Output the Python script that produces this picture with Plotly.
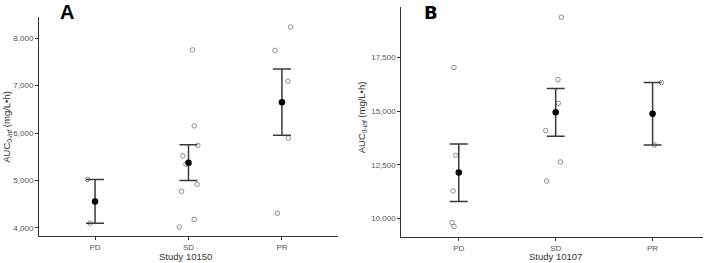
import plotly.graph_objects as go

categories = ["PD", "SD", "PR"]

# Panel A (Study 10150) individual values and horizontal jitter (category units)
a_vals = {
    "PD": [5020, 4100],
    "SD": [7750, 6150, 5740, 5520, 5340, 4920, 4770, 4180, 4020],
    "PR": [8230, 7740, 7090, 5895, 4310],
}
a_jit = {
    "PD": [-0.082, -0.053],
    "SD": [0.043, 0.061, 0.10, -0.06, -0.028, 0.093, -0.075, 0.061, -0.099],
    "PR": [0.093, -0.075, 0.064, 0.068, -0.049],
}
a_mean = [4560, 5375, 6650]
a_upper = [5020, 5750, 7350]
a_lower = [4100, 5000, 5950]

# Panel B (Study 10107)
b_vals = {
    "PD": [17040, 12950, 11290, 9815, 9630],
    "SD": [19380, 16475, 15370, 14100, 12640, 11750],
    "PR": [16340, 13430],
}
b_jit = {
    "PD": [-0.049, -0.031, -0.059, -0.069, -0.049],
    "SD": [0.058, 0.024, 0.027, -0.103, 0.048, -0.093],
    "PR": [0.09, 0.018],
}
b_mean = [12150, 14955, 14885]
b_upper = [13480, 16060, 16340]
b_lower = [10795, 13840, 13430]

a_ticks = [4000, 5000, 6000, 7000, 8000]
b_ticks = [10000, 12500, 15000, 17500]

W, H = 709, 263
L, R, T, B = 39, 703, 6.7, 236.7
PW, PH = R - L, B - T

def px(x):
    return (x - L) / PW

def py(y):
    return (B - y) / PH

fig = go.Figure()

def add_panel(vals, jit, mean, upper, lower, xa, ya):
    for i, c in enumerate(categories):
        xs = [i + j for j in jit[c]]
        fig.add_trace(go.Scatter(
            x=xs, y=vals[c], mode="markers", xaxis=xa, yaxis=ya,
            marker=dict(symbol="circle-open", size=4.5, color="#8c8c8c",
                        line=dict(width=1, color="#8c8c8c")),
            showlegend=False, hoverinfo="y"))
    xs = list(range(len(categories)))
    fig.add_trace(go.Scatter(
        x=xs, y=mean, mode="markers", xaxis=xa, yaxis=ya,
        marker=dict(size=6.5, color="black"),
        error_y=dict(type="data", symmetric=False,
                     array=[u - m for u, m in zip(upper, mean)],
                     arrayminus=[m - l for m, l in zip(mean, lower)],
                     color="#3a3a3a", thickness=1.5, width=9),
        showlegend=False, hoverinfo="y"))

add_panel(a_vals, a_jit, a_mean, a_upper, a_lower, "x", "y")
add_panel(b_vals, b_jit, b_mean, b_upper, b_lower, "x2", "y2")

axis_common = dict(showline=True, linecolor="#333333", linewidth=1,
                   ticks="outside", ticklen=3, tickcolor="#333333",
                   showgrid=False, zeroline=False, automargin=False,
                   tickfont=dict(family="Liberation Sans, Arial", size=8, color="#555555"))

fig.update_layout(
    width=W, height=H,
    margin=dict(l=L, r=W - R, t=T, b=H - B),
    paper_bgcolor="white", plot_bgcolor="white",
    xaxis=dict(domain=[0, px(338)], range=[-0.6, 2.6],
               tickvals=[0, 1, 2], ticktext=categories, anchor="y", **axis_common),
    yaxis=dict(domain=[py(236), py(17)], range=[3825, 8436],
               tickvals=a_ticks, tickformat=",", anchor="x", **axis_common),
    xaxis2=dict(domain=[px(401.3), 1], range=[-0.593, 2.52],
                tickvals=[0, 1, 2], ticktext=categories, anchor="y2", **axis_common),
    yaxis2=dict(domain=[0, 1], range=[9143, 19857],
                tickvals=b_ticks, tickformat=",", anchor="x2", **axis_common),
)

def note(text, x, y, font, angle=0):
    fig.add_annotation(text=text, x=px(x), y=py(y), xref="paper", yref="paper",
                       xanchor="center", yanchor="middle", textangle=angle,
                       showarrow=False, font=font)

title_font = dict(family="Liberation Sans, Arial", size=9.5, color="#333333")
ytitle = "AUC<sub>0-<i>inf</i></sub> (mg/L•h)"
note(ytitle, 7.5, 127, title_font, -90)
note(ytitle, 362, 117, title_font, -90)
xt_font = dict(family="Liberation Sans, Arial", size=9.5, color="#333333")
note("Study 10150", 185, 256.5, xt_font)
note("Study 10107", 555, 256.5, xt_font)
note("<b>A</b>", 66.5, 12, dict(family="Liberation Sans, Arial", size=20, color="black"))
note("<b>B</b>", 431, 12, dict(family="DejaVu Sans, Arial", size=18, color="black"))

fig.write_html("out.html", config={"displayModeBar": False},
               post_script="document.body.style.margin='0';document.body.style.padding='0';")
